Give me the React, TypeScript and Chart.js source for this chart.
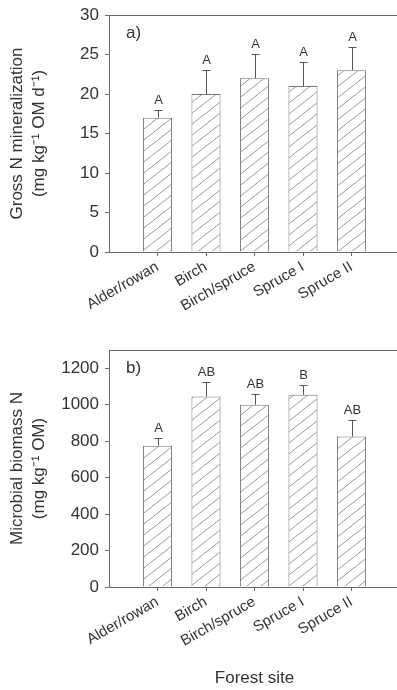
import React, { useEffect, useRef } from 'react';
import { Chart, registerables } from 'chart.js';

Chart.register(...registerables);

const categories = ['Alder/rowan', 'Birch', 'Birch/spruce', 'Spruce I', 'Spruce II'];
const grossN = [17, 20, 22, 21, 23];
const grossNErr = [1, 3, 3, 3, 3];
const grossNLetters = ['A', 'A', 'A', 'A', 'A'];
const grossTicks = [0, 5, 10, 15, 20, 25, 30];

const biomassN = [775, 1045, 1000, 1055, 825];
const biomassNErr = [45, 80, 60, 55, 90];
const biomassNLetters = ['A', 'AB', 'AB', 'B', 'AB'];
const biomassTicks = [0, 200, 400, 600, 800, 1000, 1200];

const FONT = '"Liberation Sans", Arial, sans-serif';
const TEXT = '#333333';
const AXIS = '#6a6a6a';
const BAR_EDGE = '#777777';
const HATCH = '#9a9a9a';

function makeHatch(): CanvasPattern | string {
  const W = 14, H = 11;
  const c = document.createElement('canvas');
  c.width = W; c.height = H;
  const g = c.getContext('2d');
  if (!g) return '#ffffff';
  g.fillStyle = '#ffffff';
  g.fillRect(0, 0, W, H);
  g.strokeStyle = HATCH;
  g.lineWidth = 1;
  g.beginPath();
  for (const o of [-1, 0, 1]) {
    g.moveTo(o * W - 2, H + (2 * H) / W);
    g.lineTo(o * W + W + 2, -(2 * H) / W);
  }
  g.stroke();
  const p = g.createPattern(c, 'repeat');
  return p || '#ffffff';
}

type PanelCfg = {
  values: number[];
  errs: number[];
  letters: string[];
  ticks: number[];
  max: number;
  yTitle: string[];
  xTitle?: string;
  panelLabel: string;
  padTop: number;
  xHeight: number;
};

function zeroPad(s: any) {
  s.paddingLeft = 0;
  s.paddingRight = 0;
  s.paddingTop = 0;
  s.paddingBottom = 0;
}

function makeChart(canvas: HTMLCanvasElement, cfg: PanelCfg) {
  const labels = ['', ...categories, ''];
  const data = [null, ...cfg.values, null];
  const overlay = {
    id: 'overlay' + cfg.panelLabel,
    afterDatasetsDraw(chart: any) {
      const { ctx, chartArea: ca, scales } = chart;
      const x = scales.x, y = scales.y;
      ctx.save();
      ctx.strokeStyle = AXIS;
      ctx.lineWidth = 1;
      ctx.beginPath();
      ctx.moveTo(ca.left, Math.round(ca.top) + 0.5);
      ctx.lineTo(ca.right, Math.round(ca.top) + 0.5);
      ctx.stroke();
      cfg.values.forEach((v, i) => {
        const px = Math.round(x.getPixelForValue(i + 1)) + 0.5;
        const y0 = y.getPixelForValue(v);
        const y1 = Math.round(y.getPixelForValue(v + cfg.errs[i])) + 0.5;
        ctx.strokeStyle = '#555555';
        ctx.beginPath();
        ctx.moveTo(px, y0);
        ctx.lineTo(px, y1);
        ctx.moveTo(px - 4, y1);
        ctx.lineTo(px + 4, y1);
        ctx.stroke();
        ctx.fillStyle = TEXT;
        ctx.font = `13px ${FONT}`;
        ctx.textAlign = 'center';
        ctx.textBaseline = 'alphabetic';
        ctx.fillText(cfg.letters[i], px, y1 - 7);
      });
      ctx.fillStyle = TEXT;
      ctx.font = `17px ${FONT}`;
      ctx.textAlign = 'left';
      ctx.textBaseline = 'middle';
      ctx.fillText(cfg.panelLabel, ca.left + 17, ca.top + 18);
      ctx.restore();
    },
  };

  return new Chart(canvas, {
    type: 'bar',
    data: {
      labels,
      datasets: [
        {
          data,
          backgroundColor: makeHatch() as any,
          borderColor: BAR_EDGE,
          borderWidth: 1,
          categoryPercentage: 1,
          barPercentage: 0.6,
        },
      ],
    },
    options: {
      responsive: false,
      animation: false,
      layout: { padding: { top: cfg.padTop, left: 0, right: 0, bottom: 0 } },
      plugins: { legend: { display: false }, tooltip: { enabled: false } },
      scales: {
        x: {
          offset: false,
          afterFit: (s: any) => { s.height = cfg.xHeight; zeroPad(s); },
          grid: {
            offset: false,
            drawOnChartArea: false,
            drawTicks: true,
            tickLength: 4,
            color: (c: any) => (c.index === 0 || c.index === labels.length - 1 ? 'rgba(0,0,0,0)' : AXIS),
          },
          border: { display: true, color: AXIS, width: 1 },
          ticks: {
            autoSkip: false,
            minRotation: 30,
            maxRotation: 30,
            padding: 2,
            color: TEXT,
            font: { family: FONT, size: 15 },
          },
          title: cfg.xTitle
            ? {
                display: true,
                text: cfg.xTitle,
                color: TEXT,
                font: { family: FONT, size: 17, lineHeight: 1.25 },
                padding: { top: 0, bottom: 1 },
              }
            : { display: false },
        },
        y: {
          min: 0,
          max: cfg.max,
          afterFit: (s: any) => { s.width = 109; zeroPad(s); },
          afterBuildTicks: (s: any) => { s.ticks = cfg.ticks.map((v) => ({ value: v })); },
          grid: {
            drawOnChartArea: false,
            drawTicks: true,
            tickLength: 4,
            color: AXIS,
          },
          border: { display: true, color: AXIS, width: 1 },
          ticks: {
            padding: 6,
            color: TEXT,
            font: { family: FONT, size: 17 },
            callback: (v: any) => String(v),
          },
          title: {
            display: true,
            text: cfg.yTitle,
            color: TEXT,
            font: { family: FONT, size: 17, lineHeight: 1.25 },
            padding: { top: 7, bottom: 0 },
          },
        },
      },
    },
    plugins: [overlay as any],
  });
}

export default function App() {
  const topRef = useRef<HTMLCanvasElement>(null);
  const botRef = useRef<HTMLCanvasElement>(null);

  useEffect(() => {
    document.body.style.margin = '0';
    const charts: Chart[] = [];
    if (topRef.current) {
      charts.push(
        makeChart(topRef.current, {
          values: grossN,
          errs: grossNErr,
          letters: grossNLetters,
          ticks: grossTicks,
          max: 30,
          yTitle: ['Gross N mineralization', '(mg kg\u207B\u00B9 OM d\u207B\u00B9)'],
          panelLabel: 'a)',
          padTop: 15,
          xHeight: 88,
        })
      );
    }
    if (botRef.current) {
      charts.push(
        makeChart(botRef.current, {
          values: biomassN,
          errs: biomassNErr,
          letters: biomassNLetters,
          ticks: biomassTicks,
          max: 1300,
          yTitle: ['Microbial biomass N', '(mg kg\u207B\u00B9 OM)'],
          xTitle: 'Forest site',
          panelLabel: 'b)',
          padTop: 10,
          xHeight: 103,
        })
      );
    }
    return () => charts.forEach((c) => c.destroy());
  }, []);

  return (
    <div style={{ width: 397, height: 690, overflow: 'hidden', background: '#fff' }}>
      <canvas ref={topRef} width={400} height={340} style={{ display: 'block', width: 400, height: 340 }} />
      <canvas ref={botRef} width={400} height={350} style={{ display: 'block', width: 400, height: 350 }} />
    </div>
  );
}
